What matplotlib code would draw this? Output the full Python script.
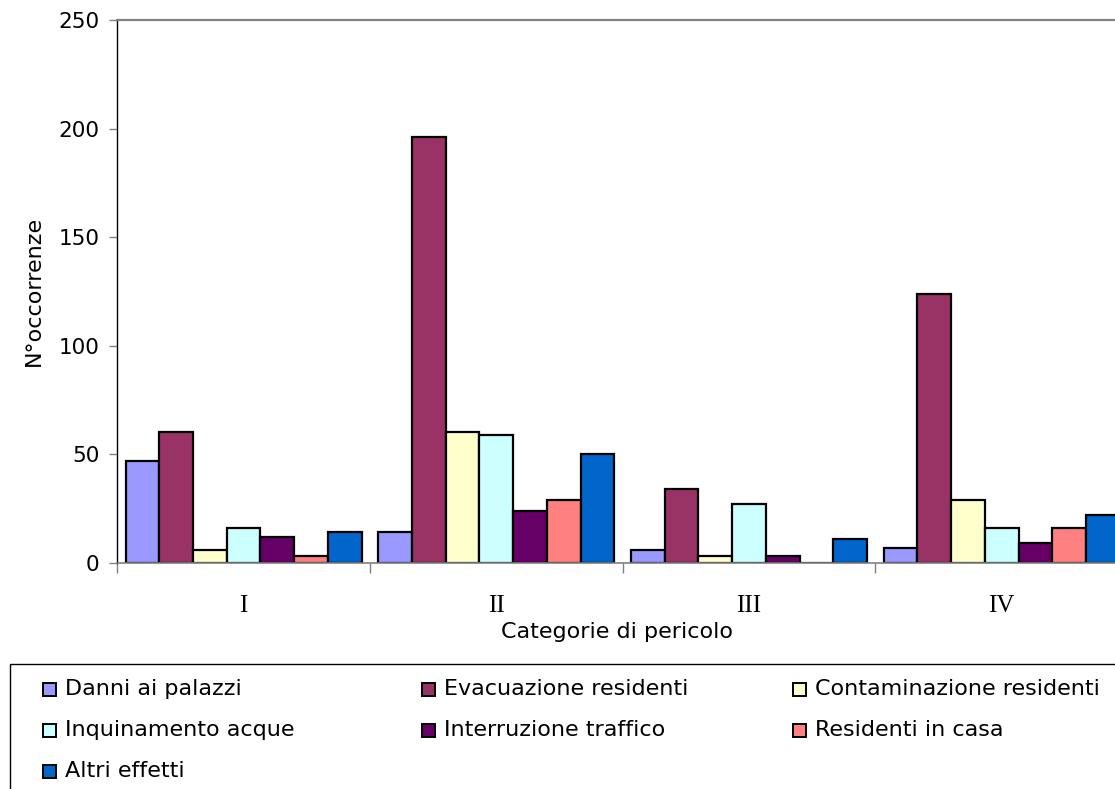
import matplotlib
matplotlib.use("Agg")
import matplotlib.pyplot as plt
from matplotlib.patches import Rectangle
import numpy as np

# Hazard categories and occurrences per effect type
categories = ["I", "II", "III", "IV"]
series_names = [
    "Danni ai palazzi",
    "Evacuazione residenti",
    "Contaminazione residenti",
    "Inquinamento acque",
    "Interruzione traffico",
    "Residenti in casa",
    "Altri effetti",
]
danni_palazzi = [47, 14, 6, 7]
evacuazione_residenti = [60, 196, 34, 124]
contaminazione_residenti = [6, 60, 3, 29]
inquinamento_acque = [16, 59, 27, 16]
interruzione_traffico = [12, 24, 3, 9]
residenti_in_casa = [3, 29, 0, 16]
altri_effetti = [14, 50, 11, 22]

series_values = [
    danni_palazzi,
    evacuazione_residenti,
    contaminazione_residenti,
    inquinamento_acque,
    interruzione_traffico,
    residenti_in_casa,
    altri_effetti,
]
colors = ["#9999FF", "#993366", "#FFFFCC", "#CCFFFF", "#660066", "#FF8080", "#0066CC"]
y_ticks = [0, 50, 100, 150, 200, 250]

W, H = 1115, 789
fig = plt.figure(figsize=(W / 100, H / 100), dpi=100)
fig.patch.set_facecolor("white")

ax_left, ax_right = 117.3 / W, 1128.0 / W
ax_bottom, ax_top = 1 - 562.7 / H, 1 - 20.0 / H
ax = fig.add_axes([ax_left, ax_bottom, ax_right - ax_left, ax_top - ax_bottom])

x = np.arange(len(categories))
bar_w = 0.1334
n = len(series_values)
for i, (vals, col, name) in enumerate(zip(series_values, colors, series_names)):
    ax.bar(x + (i - (n - 1) / 2) * bar_w, vals, width=bar_w, color=col,
           edgecolor="black", linewidth=1.6, label=name, zorder=2)

ax.set_xlim(-0.5, len(categories) - 0.5)
ax.set_ylim(0, 250)

# Spines
ax.spines["right"].set_visible(False)
ax.spines["left"].set_color("black")
ax.spines["left"].set_linewidth(1.0)
ax.spines["bottom"].set_color("#808080")
ax.spines["bottom"].set_linewidth(1.2)
ax.spines["top"].set_color("#808080")
ax.spines["top"].set_linewidth(1.6)

# Y axis ticks
ax.set_yticks(y_ticks)
ax.set_yticklabels([str(v) for v in y_ticks], fontsize=15.5, family="DejaVu Sans")
ax.tick_params(axis="y", direction="out", length=6, width=1.0, color="#808080", pad=7)

# X axis: tick marks between groups, labels at group centres
ax.set_xticks(np.arange(-0.5, len(categories) + 0.5, 1.0))
ax.set_xticklabels([])
ax.set_xticks(x, minor=True)
ax.set_xticklabels(categories, minor=True, fontsize=18, family="Liberation Serif")
ax.tick_params(axis="x", which="major", direction="out", length=7, width=1.0, color="#808080")
ax.tick_params(axis="x", which="minor", length=0, pad=23)

ax.set_ylabel("N°occorrenze", fontsize=16, family="DejaVu Sans", labelpad=10)
ax.text((617 - 117.3) / (1128 - 117.3), (562.7 - 632) / 542.7, "Categorie di pericolo",
        transform=ax.transAxes, ha="center", va="center", fontsize=16, family="DejaVu Sans")

# Legend box along the bottom of the figure
leg_left, leg_top = 10 / W, 1 - 664 / H
fig.patches.append(Rectangle((leg_left, -0.05), 1.2, leg_top + 0.05, transform=fig.transFigure,
                             facecolor="white", edgecolor="black", linewidth=1.0, zorder=1))
col_x = [43, 422, 793]
row_y = [689, 730, 771]
sq = 13
for k, (name, col) in enumerate(zip(series_names, colors)):
    r, c = divmod(k, 3)
    px, py = col_x[c], row_y[r]
    fig.patches.append(Rectangle((px / W, 1 - (py + sq / 2) / H), sq / W, sq / H,
                                 transform=fig.transFigure, facecolor=col,
                                 edgecolor="black", linewidth=1.4, zorder=3))
    fig.text((px + sq + 9) / W, 1 - py / H, name, ha="left", va="center",
             fontsize=16, family="DejaVu Sans", zorder=4)

fig.savefig("out.png", dpi=100)
